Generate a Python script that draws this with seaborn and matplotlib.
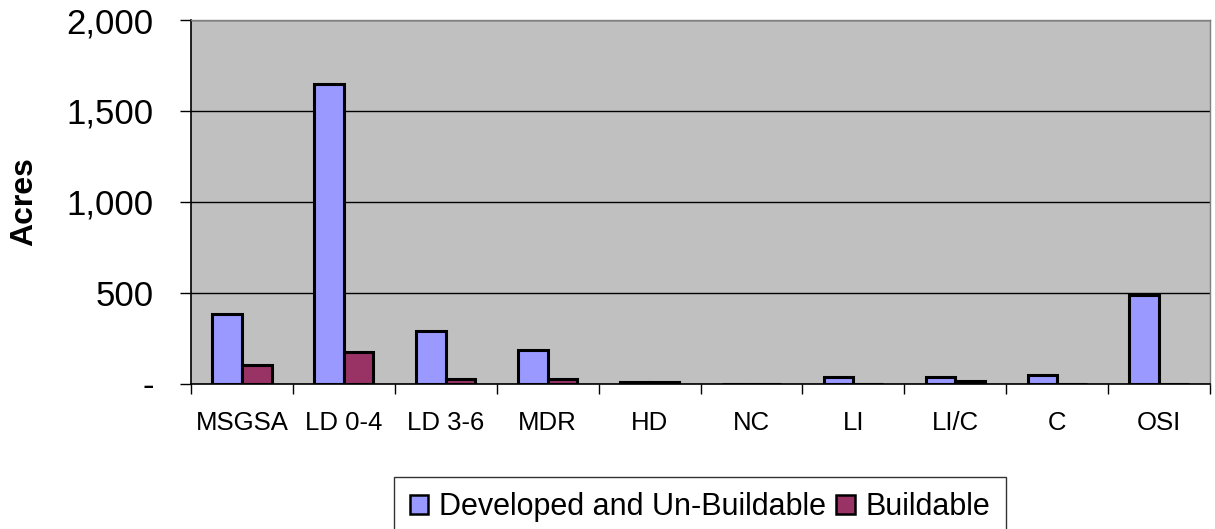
import numpy as np
import pandas as pd
import matplotlib
matplotlib.use("Agg")
import matplotlib.pyplot as plt
from matplotlib.ticker import FuncFormatter, FixedLocator
import seaborn as sns

# Data
categories = ["MSGSA", "LD 0-4", "LD 3-6", "MDR", "HD", "NC", "LI", "LI/C", "C", "OSI"]
developed = [383, 1650, 289, 183, 9, 0, 37, 37, 48, 489]
buildable = [102, 172, 23, 23, 9, 0, 0, 12, 0, 0]
series_names = ["Developed and Un-Buildable", "Buildable"]
colors = ["#9999FF", "#993366"]

sns.set_theme(style="white")
plt.rcParams["font.family"] = ["Liberation Sans", "DejaVu Sans"]
plt.rcParams["text.color"] = "black"
plt.rcParams["xtick.color"] = "black"
plt.rcParams["ytick.color"] = "black"
plt.rcParams["axes.labelcolor"] = "black"

df = pd.DataFrame({
    "category": categories * 2,
    "acres": developed + buildable,
    "series": [series_names[0]] * len(categories) + [series_names[1]] * len(categories),
})

fig = plt.figure(figsize=(12.15, 5.29), dpi=100)
ax = fig.add_axes([191 / 1215, 1 - 383.5 / 529, (1210 - 191) / 1215, (383.5 - 20) / 529])
ax.set_facecolor("#C0C0C0")

sns.barplot(data=df, x="category", y="acres", hue="series", order=categories,
            hue_order=series_names, palette=colors, width=0.58, saturation=1,
            edgecolor="black", linewidth=2.2, ax=ax, legend=True)

ax.set_ylim(0, 2000)
ax.set_xlim(-0.5, len(categories) - 0.5)
ax.set_yticks([0, 500, 1000, 1500, 2000])
ax.yaxis.set_major_formatter(FuncFormatter(lambda v, p: "-" if v == 0 else f"{int(v):,}"))
ax.yaxis.grid(True, color="black", linewidth=1)
ax.set_axisbelow(True)

# category separators as minor ticks on the x axis
ax.xaxis.set_minor_locator(FixedLocator(np.arange(-0.5, len(categories), 1.0)))
ax.tick_params(axis="x", which="major", length=0, pad=20, labelsize=18.5)
ax.tick_params(axis="x", which="minor", length=7, width=1, color="black", direction="out")
ax.tick_params(axis="y", which="major", length=8, width=1, color="black", direction="out",
               labelsize=25, pad=19)
ax.tick_params(left=True, bottom=True)
ax.xaxis.set_tick_params(which="minor", bottom=True)

for side in ["left", "bottom"]:
    ax.spines[side].set_color("black")
    ax.spines[side].set_linewidth(1.2)
for side in ["top", "right"]:
    ax.spines[side].set_color("#808080")
    ax.spines[side].set_linewidth(1)

ax.set_xlabel("")
ax.set_ylabel("Acres", fontsize=23, fontweight="bold")
ax.yaxis.set_label_coords(-0.149, 0.5)

handles, labels = ax.get_legend_handles_labels()
ax.get_legend().remove()
leg = fig.legend(handles, labels, loc="upper center", ncol=2,
                 bbox_to_anchor=(700 / 1215, 1 - 477 / 529), fontsize=22,
                 borderaxespad=0, frameon=True, fancybox=False, edgecolor="black",
                 handlelength=0.6, handleheight=0.6, handletextpad=0.35,
                 columnspacing=0.35, borderpad=0.5)
leg.get_frame().set_linewidth(1)
for h in leg.legend_handles:
    h.set_edgecolor("black")
    h.set_linewidth(1.8)

fig.savefig("out.png", dpi=100, facecolor="white")
